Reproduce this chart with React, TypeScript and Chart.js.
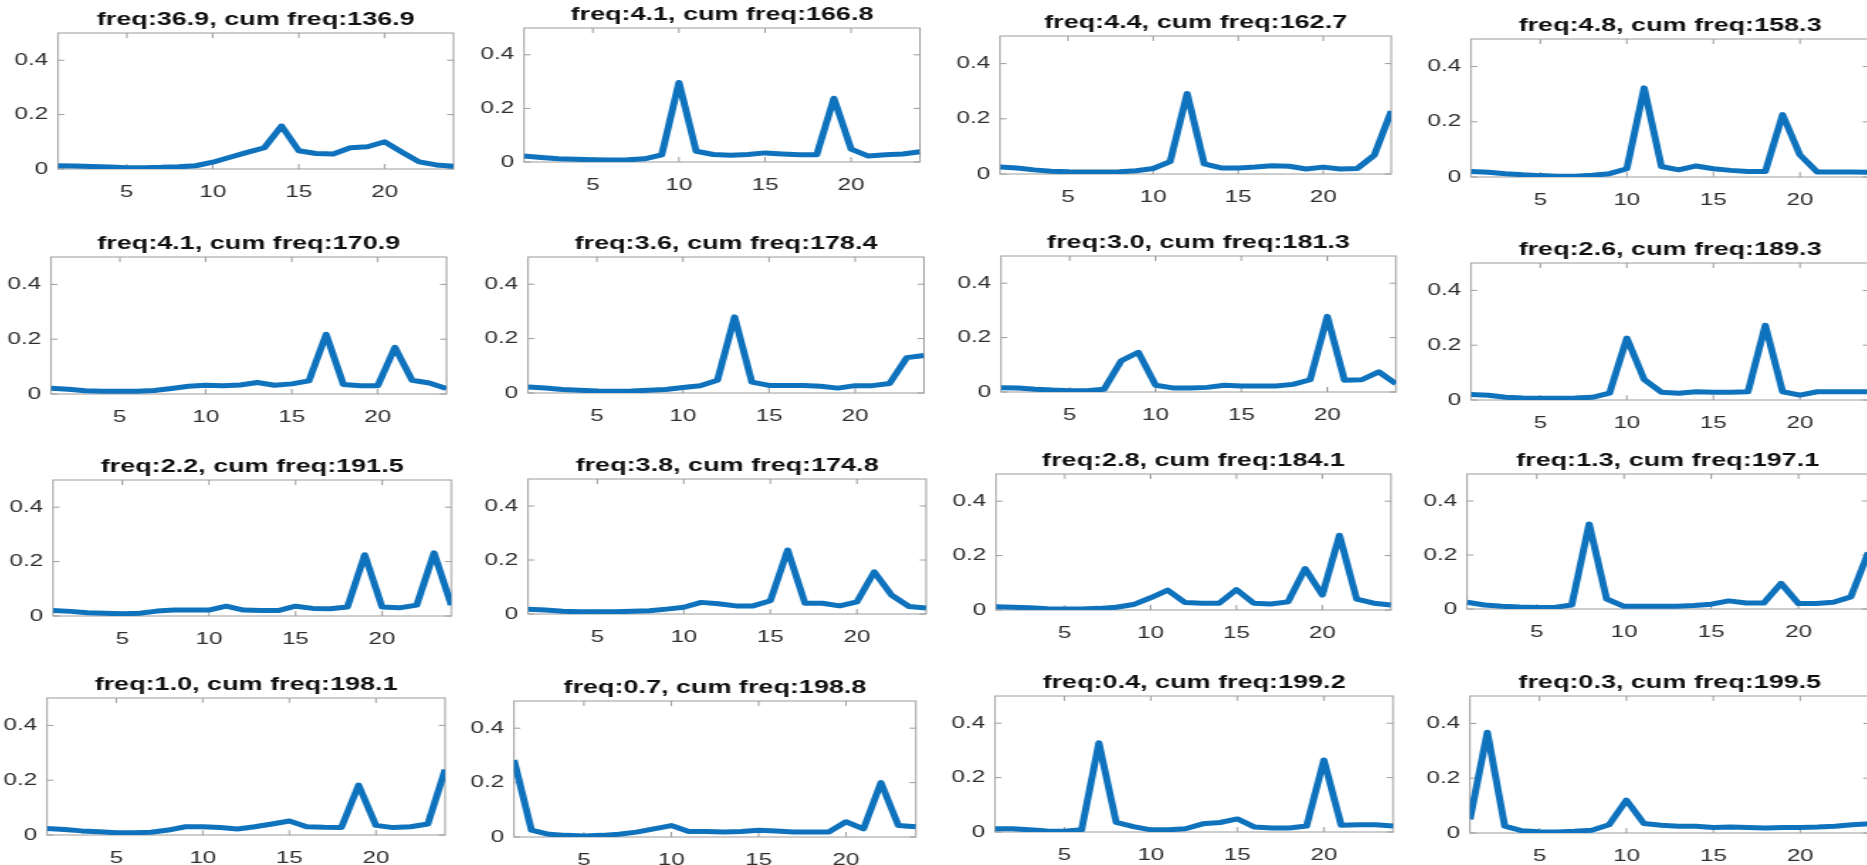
import React, { useEffect, useRef } from 'react';
import { Chart, registerables } from 'chart.js';

Chart.register(...registerables);

// ---------- data ----------
const xValues = [1, 2, 3, 4, 5, 6, 7, 8, 9, 10, 11, 12, 13, 14, 15, 16, 17, 18, 19, 20, 21, 22, 23, 24];
const xTicks = [5, 10, 15, 20];
const yTicks = [0, 0.2, 0.4];

const freqs = [36.9, 4.1, 4.4, 4.8, 4.1, 3.6, 3.0, 2.6, 2.2, 3.8, 2.8, 1.3, 1.0, 0.7, 0.4, 0.3];
const cumFreqs = [136.9, 166.8, 162.7, 158.3, 170.9, 178.4, 181.3, 189.3, 191.5, 174.8, 184.1, 197.1, 198.1, 198.8, 199.2, 199.5];

const s1 = [0.012, 0.011, 0.009, 0.007, 0.005, 0.005, 0.006, 0.008, 0.012, 0.025, 0.043, 0.061, 0.078, 0.158, 0.067, 0.057, 0.055, 0.078, 0.082, 0.1, 0.062, 0.026, 0.015, 0.01];
const s2 = [0.022, 0.017, 0.012, 0.01, 0.008, 0.007, 0.008, 0.012, 0.027, 0.297, 0.04, 0.028, 0.025, 0.028, 0.034, 0.03, 0.027, 0.027, 0.238, 0.048, 0.022, 0.027, 0.03, 0.038];
const s3 = [0.025, 0.022, 0.015, 0.01, 0.008, 0.007, 0.007, 0.008, 0.012, 0.02, 0.045, 0.292, 0.037, 0.022, 0.022, 0.025, 0.03, 0.028, 0.018, 0.025, 0.018, 0.02, 0.068, 0.228];
const s4 = [0.02, 0.017, 0.012, 0.008, 0.005, 0.003, 0.003, 0.006, 0.012, 0.03, 0.323, 0.038, 0.026, 0.04, 0.03, 0.024, 0.02, 0.02, 0.226, 0.08, 0.018, 0.018, 0.018, 0.017];
const s5 = [0.021, 0.017, 0.012, 0.01, 0.01, 0.01, 0.013, 0.02, 0.028, 0.032, 0.03, 0.033, 0.042, 0.032, 0.037, 0.048, 0.218, 0.035, 0.03, 0.03, 0.17, 0.05, 0.04, 0.02];
const s6 = [0.022, 0.018, 0.013, 0.01, 0.007, 0.006, 0.007, 0.01, 0.013, 0.02, 0.027, 0.047, 0.28, 0.04, 0.028, 0.028, 0.028, 0.025, 0.018, 0.027, 0.027, 0.035, 0.13, 0.138];
const s7 = [0.016, 0.015, 0.01, 0.007, 0.005, 0.005, 0.01, 0.115, 0.146, 0.025, 0.015, 0.015, 0.017, 0.025, 0.022, 0.022, 0.022, 0.028, 0.045, 0.278, 0.043, 0.045, 0.074, 0.03];
const s8 = [0.02, 0.017, 0.01, 0.007, 0.006, 0.006, 0.007, 0.01, 0.025, 0.226, 0.075, 0.028, 0.025, 0.03, 0.028, 0.028, 0.03, 0.273, 0.03, 0.018, 0.03, 0.03, 0.03, 0.03];
const s9 = [0.02, 0.017, 0.012, 0.01, 0.008, 0.01, 0.018, 0.022, 0.022, 0.022, 0.036, 0.022, 0.02, 0.02, 0.036, 0.028, 0.027, 0.033, 0.225, 0.033, 0.03, 0.04, 0.232, 0.04];
const s10 = [0.018, 0.015, 0.01, 0.008, 0.008, 0.008, 0.01, 0.012, 0.018, 0.025, 0.043, 0.038, 0.03, 0.03, 0.049, 0.237, 0.04, 0.04, 0.03, 0.045, 0.156, 0.07, 0.028, 0.022];
const s11 = [0.012, 0.01, 0.008, 0.005, 0.004, 0.004, 0.006, 0.01, 0.02, 0.045, 0.073, 0.028, 0.025, 0.025, 0.075, 0.025, 0.022, 0.03, 0.152, 0.055, 0.275, 0.04, 0.025, 0.018];
const s12 = [0.025, 0.015, 0.01, 0.007, 0.006, 0.006, 0.015, 0.315, 0.037, 0.01, 0.01, 0.01, 0.01, 0.013, 0.018, 0.03, 0.022, 0.022, 0.095, 0.02, 0.02, 0.025, 0.045, 0.21];
const s13 = [0.024, 0.02, 0.015, 0.012, 0.008, 0.008, 0.01, 0.018, 0.03, 0.03, 0.027, 0.022, 0.03, 0.04, 0.051, 0.03, 0.028, 0.027, 0.182, 0.035, 0.027, 0.03, 0.04, 0.239];
const s14 = [0.283, 0.025, 0.01, 0.006, 0.004, 0.006, 0.01, 0.018, 0.03, 0.042, 0.02, 0.02, 0.018, 0.02, 0.025, 0.022, 0.018, 0.018, 0.018, 0.056, 0.03, 0.2, 0.042, 0.038];
const s15 = [0.012, 0.012, 0.008, 0.004, 0.003, 0.008, 0.328, 0.035, 0.02, 0.008, 0.008, 0.012, 0.03, 0.035, 0.048, 0.018, 0.015, 0.015, 0.022, 0.265, 0.025, 0.027, 0.027, 0.022];
const s16 = [0.05, 0.368, 0.025, 0.008, 0.005, 0.004, 0.006, 0.01, 0.03, 0.12, 0.035, 0.028, 0.025, 0.025, 0.02, 0.022, 0.02, 0.018, 0.02, 0.02, 0.022, 0.025, 0.03, 0.034];

const seriesList = [s1, s2, s3, s4, s5, s6, s7, s8, s9, s10, s11, s12, s13, s14, s15, s16];

// ---------- layout (page px): axes box [left(x=1), right(x=24), top(y=0.5), bottom(y=0)] ----------
const axesBoxes = [
  [57.5, 453, 32.5, 168], [524, 920, 28.4, 162], [1000, 1391, 35.5, 173], [1471, 1869, 39, 176.5],
  [50.5, 446, 257, 394], [528, 924, 257, 393], [1001, 1396, 255.5, 391], [1471, 1869, 263, 399.5],
  [52.8, 451, 480, 616], [528, 926, 478.5, 613.5], [996, 1391, 474, 610], [1467, 1868, 473.5, 608.7],
  [47, 445, 698, 834.7], [514, 916, 701, 837], [995, 1393, 696, 831.5], [1470, 1870, 696, 832.5],
];

const SX = 1.42; // horizontal stretch of the reference figure
const PAD_L = 62;
const PAD_R = 12;
const PAD_T = 36;
const PAD_B = 42;
const TITLE_SIZE = 19;
const TICK_SIZE = 17;
const LINE_COLOR = '#0f72bd';
const BOX_COLOR = '#9c9c9c';
const TICK_COLOR = '#2e2e2e';
const FONT = "'Liberation Sans', Arial, sans-serif";

const boxPlugin = {
  id: 'matlabBox',
  beforeDatasetsDraw(chart: any) {
    const { ctx, chartArea } = chart;
    const { left, right, top, bottom } = chartArea;
    const xs = chart.scales.x;
    const ys = chart.scales.y;
    ctx.save();
    ctx.strokeStyle = BOX_COLOR;
    ctx.lineWidth = 1;
    ctx.strokeRect(left, top, right - left, bottom - top);
    ctx.beginPath();
    const tlx = 5;
    const tly = 4.5;
    xs.ticks.forEach((t: any) => {
      const px = xs.getPixelForValue(t.value);
      ctx.moveTo(px, bottom);
      ctx.lineTo(px, bottom - tlx);
      ctx.moveTo(px, top);
      ctx.lineTo(px, top + tlx);
    });
    ys.ticks.forEach((t: any) => {
      const py = ys.getPixelForValue(t.value);
      ctx.moveTo(left, py);
      ctx.lineTo(left + tly, py);
      ctx.moveTo(right, py);
      ctx.lineTo(right - tly, py);
    });
    ctx.stroke();
    ctx.restore();
  },
};

function Panel({ index }: { index: number }) {
  const ref = useRef<HTMLCanvasElement | null>(null);
  const [L, R, T, B] = axesBoxes[index];
  const cssW = R - L + PAD_L + PAD_R;
  const cssH = Math.round(B - T + PAD_T + PAD_B);
  const backW = Math.ceil(cssW / SX);
  const padRight = backW - PAD_L / SX - (R - L) / SX;
  const titleLine = TITLE_SIZE * 1.2;

  useEffect(() => {
    const canvas = ref.current;
    if (!canvas) return;
    const series = seriesList[index];
    const chart = new Chart(canvas, {
      type: 'line',
      data: {
        datasets: [
          {
            data: series.map((v, i) => ({ x: xValues[i], y: v })),
            borderColor: LINE_COLOR,
            borderWidth: 5,
            pointRadius: 0,
            tension: 0,
            fill: false,
            borderJoinStyle: 'round',
          },
        ],
      },
      options: {
        animation: false,
        responsive: false,
        maintainAspectRatio: false,
        devicePixelRatio: 1,
        events: [],
        layout: { autoPadding: false, padding: { left: 0, right: padRight, top: 0, bottom: 0 } },
        plugins: {
          legend: { display: false },
          tooltip: { enabled: false },
          title: {
            display: true,
            fullSize: false,
            text: `freq:${freqs[index].toFixed(1)}, cum freq:${cumFreqs[index].toFixed(1)}`,
            color: '#111111',
            font: { family: FONT, size: TITLE_SIZE, weight: 'bold', lineHeight: 1.2 },
            padding: { top: PAD_T - titleLine - 2, bottom: 2 },
          },
        },
        scales: {
          x: {
            type: 'linear',
            min: 1,
            max: 24,
            grid: { display: false, drawTicks: false },
            border: { display: false },
            afterBuildTicks: (scale: any) => {
              scale.ticks = xTicks.map((v) => ({ value: v }));
            },
            afterFit: (scale: any) => {
              scale.height = PAD_B;
            },
            ticks: {
              color: TICK_COLOR,
              padding: 13,
              maxRotation: 0,
              autoSkip: false,
              font: { family: FONT, size: TICK_SIZE, lineHeight: 1.2 },
              callback: (v: any) => String(v),
            },
          },
          y: {
            type: 'linear',
            min: 0,
            max: 0.5,
            grid: { display: false, drawTicks: false },
            border: { display: false },
            afterBuildTicks: (scale: any) => {
              scale.ticks = yTicks.map((v) => ({ value: v }));
            },
            afterFit: (scale: any) => {
              scale.width = PAD_L / SX;
            },
            ticks: {
              color: TICK_COLOR,
              padding: 7,
              autoSkip: false,
              font: { family: FONT, size: TICK_SIZE, lineHeight: 1.2 },
              callback: (v: any) => (v === 0 ? '0' : Number(v).toFixed(1)),
            },
          },
        },
      },
      plugins: [boxPlugin],
    } as any);
    return () => chart.destroy();
  }, [index]);

  return (
    <canvas
      ref={ref}
      width={backW}
      height={cssH}
      style={{
        position: 'absolute',
        left: `${L - PAD_L}px`,
        top: `${T - PAD_T}px`,
        width: `${backW * SX}px`,
        height: `${cssH}px`,
      }}
    />
  );
}

export default function App() {
  return (
    <div
      style={{
        position: 'fixed',
        left: 0,
        top: 0,
        width: '1867px',
        height: '865px',
        overflow: 'hidden',
        background: '#ffffff',
      }}
    >
      {seriesList.map((_, i) => (
        <Panel key={i} index={i} />
      ))}
    </div>
  );
}
